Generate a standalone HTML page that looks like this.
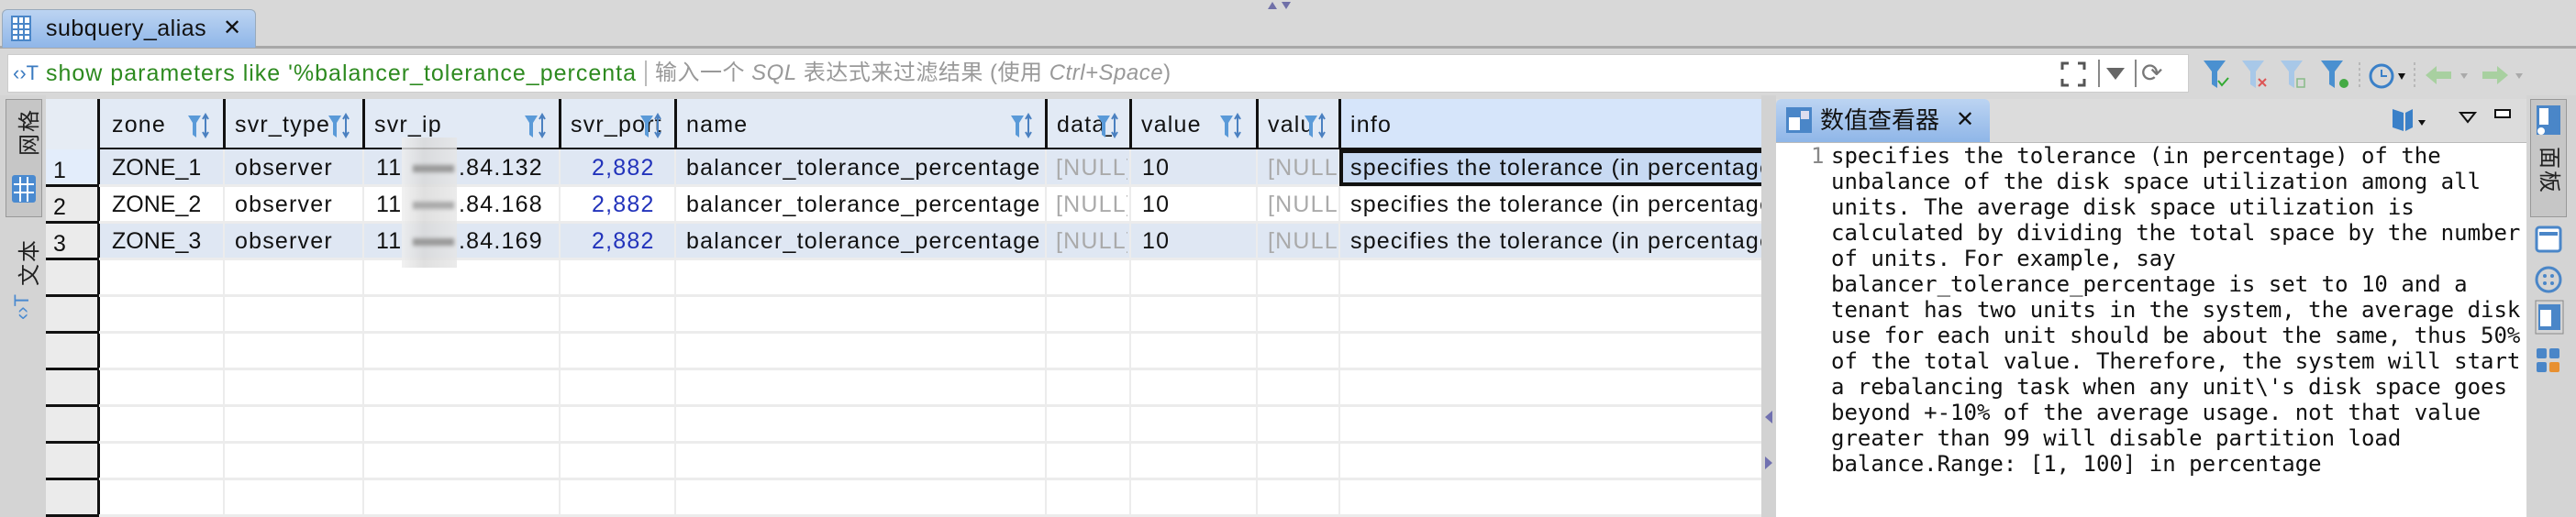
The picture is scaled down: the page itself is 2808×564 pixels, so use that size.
<!DOCTYPE html>
<html><head><meta charset="utf-8"><style>
*{margin:0;padding:0;box-sizing:border-box}
body{width:2808px;height:564px;overflow:hidden;background:#d8d8d8;font-family:"Liberation Sans","Noto Sans CJK SC",sans-serif;position:relative}
.a{position:absolute}
.t{position:absolute;font-size:25px;color:#111;white-space:nowrap;line-height:40px;letter-spacing:1.2px}
.mono{font-family:"DejaVu Sans Mono","Liberation Mono",monospace;font-size:24px;line-height:28px;color:#111;letter-spacing:0}
.vr{position:absolute;font-size:24px;writing-mode:vertical-rl;text-orientation:sideways;color:#222;letter-spacing:2px}
.vl{position:absolute;font-size:24px;writing-mode:vertical-rl;text-orientation:sideways;transform:rotate(180deg);color:#222;letter-spacing:2px}
</style></head><body>
<!-- top tab -->
<div class="a" style="left:0;top:50px;width:2808px;height:3px;background:#a8a8a8"></div>
<div class="a" style="left:2px;top:10px;width:277px;height:42px;background:linear-gradient(#bcd4f2,#8fb6e8);border:1px solid #9ab;border-bottom:none;border-radius:6px 6px 0 0"></div>
<svg class="a" style="left:12px;top:17px" width="22" height="28"><rect x="1" y="1" width="20" height="26" fill="#fff" stroke="#4a86c8" stroke-width="2"/><path d="M1 9H21M1 15H21M1 21H21M8 1V27M14 1V27" stroke="#4a86c8" stroke-width="2"/></svg>
<div class="t" style="left:50px;top:12px;font-size:25px;line-height:38px;letter-spacing:0.5px">subquery_alias</div>
<div class="t" style="left:243px;top:12px;font-size:24px;line-height:38px">✕</div>
<svg class="a" style="left:1380px;top:0" width="30" height="12"><path d="M2 10L7 2L12 10Z M17 2L27 2L22 10Z" fill="#7070a8"/></svg>
<!-- filter bar -->
<div class="a" style="left:8px;top:59px;width:2378px;height:42px;background:#fff;border:1px solid #ccc"></div>
<div class="t" style="left:14px;top:60px;font-size:22px;color:#3a7ac0;letter-spacing:0">‹›T</div>
<div class="t" style="left:50px;top:60px;color:#2d8a1f;font-size:25px;width:645px;overflow:hidden;letter-spacing:1px">show parameters like '%balancer_tolerance_percentage</div>
<div class="a" style="left:703px;top:66px;width:2px;height:28px;background:#bbb"></div>
<div class="t" style="left:714px;top:60px;color:#999;font-size:24px;letter-spacing:0.5px">输入一个 <i>SQL</i> 表达式来过滤结果 (使用 <i>Ctrl+Space</i>)</div>
<svg class="a" style="left:2245px;top:66px" width="30" height="30"><path d="M3 10V3H10M20 3H27V10M3 20V27H10M20 27H27V20" stroke="#555" stroke-width="3" fill="none"/></svg>
<div class="a" style="left:2287px;top:65px;width:2px;height:30px;background:#888"></div>
<svg class="a" style="left:2295px;top:72px" width="22" height="16"><path d="M1 2H21L11 15Z" fill="#666"/></svg>
<div class="a" style="left:2327px;top:65px;width:2px;height:30px;background:#888"></div>
<div class="t" style="left:2334px;top:60px;color:#777;font-size:28px;letter-spacing:0">⟳</div>
<!-- toolbar icons -->
<svg class="a" style="left:2400px;top:64px" width="400" height="36">
<g fill="#4a90d0"><path d="M2 2H26L17 14V32L11 28V14Z"/></g><path d="M18 24L22 29L29 21" stroke="#3a3" stroke-width="2" fill="none"/>
<g fill="#a8c8e8"><path d="M44 2H68L59 14V32L53 28V14Z"/></g><path d="M62 22L70 30M70 22L62 30" stroke="#d55" stroke-width="2"/>
<g fill="#a8c8e8"><path d="M86 2H110L101 14V32L95 28V14Z"/></g><rect x="104" y="22" width="8" height="9" fill="none" stroke="#8b8" stroke-width="1.5"/>
<g fill="#4a90d0"><path d="M130 2H154L145 14V32L139 28V14Z"/></g><circle cx="155" cy="27" r="5" fill="#4a4"/>
<path d="M172 4V32" stroke="#999" stroke-dasharray="3 3"/>
<circle cx="196" cy="19" r="12" fill="none" stroke="#3a80c8" stroke-width="3"/><path d="M196 12V19H202" stroke="#3a80c8" stroke-width="2" fill="none"/><path d="M214 16L222 16L218 23Z" fill="#111"/>
<path d="M232 4V32" stroke="#999" stroke-dasharray="3 3"/>
<path d="M244 18L256 8V14H272V22H256V28Z" fill="#a8d0a0"/><path d="M282 16L290 16L286 22Z" fill="#aaa"/>
<path d="M334 18L322 8V14H306V22H322V28Z" fill="#a8d0a0"/><path d="M342 16L350 16L346 22Z" fill="#aaa"/>
</svg>
<!-- left sidebar -->
<div class="a" style="left:0;top:104px;width:50px;height:460px;background:#d4d4d4"></div>
<div class="a" style="left:6px;top:108px;width:40px;height:129px;background:#c6c6c6;border:1px solid #999"></div>
<div class="vl" style="left:12px;top:118px">网格</div>
<svg class="a" style="left:12px;top:190px" width="28" height="32"><rect x="1" y="1" width="26" height="30" rx="3" fill="#4a8ad0"/><path d="M3 11H25M3 20H25M10 3V30M18 3V30" stroke="#fff" stroke-width="2"/></svg>
<div class="vl" style="left:12px;top:260px">文本</div>
<div class="a" style="left:10px;top:322px;font-size:22px;color:#4a8ad0;transform:rotate(-90deg)">‹›T</div>
<!-- grid -->
<div class="a" style="left:50px;top:108px;width:1870px;height:456px;background:#fff"></div>
<div class="a" style="left:50px;top:108px;width:1870px;height:55px;background:#e2eaf5"></div>
<div class="a" style="left:1459px;top:108px;width:461px;height:55px;background:#d6e5fa"></div>
<div class="a" style="left:50px;top:108px;width:58px;height:55px;background:#e6ecf4"></div>
<div class="a" style="left:108px;top:161px;width:1812px;height:3px;background:#111"></div>
<div class="a" style="left:108px;top:163px;width:1812px;height:40px;background:#dfe7f3"></div>
<div class="a" style="left:108px;top:243px;width:1812px;height:40px;background:#dfe7f3"></div>
<div class="a" style="left:50px;top:163px;width:58px;height:401px;background:#ebebeb"></div>
<div class="a" style="left:50px;top:163px;width:58px;height:40px;background:#e3edfb"></div>
<div class="a" style="left:106px;top:108px;width:3px;height:456px;background:#111"></div>
<div id="rl"></div>
<script>
var h='';
for(var y=201;y<564;y+=40){h+='<div class="a" style="left:108px;top:'+y+'px;width:1812px;height:3px;background:#ececec"></div><div class="a" style="left:50px;top:'+y+'px;width:58px;height:3px;background:#111"></div>';}
var cols=[243,395,609,735,1139,1231,1369,1459];
cols.forEach(function(x){h+='<div class="a" style="left:'+x+'px;top:163px;width:2px;height:401px;background:#ececec"></div><div class="a" style="left:'+x+'px;top:108px;width:3px;height:55px;background:#111"></div>';});
document.getElementById('rl').innerHTML=h;
</script>
<!-- header text -->
<div class="t" style="left:122px;top:116px">zone</div>
<div class="t" style="left:256px;top:116px;width:105px;overflow:hidden">svr_type</div>
<div class="t" style="left:408px;top:116px">svr_ip</div>
<div class="t" style="left:622px;top:116px;width:100px;overflow:hidden">svr_port</div>
<div class="t" style="left:748px;top:116px">name</div>
<div class="t" style="left:1152px;top:116px;width:60px;overflow:hidden">data_</div>
<div class="t" style="left:1244px;top:116px">value</div>
<div class="t" style="left:1382px;top:116px;width:60px;overflow:hidden">valu</div>
<div class="t" style="left:1472px;top:116px">info</div>
<svg class="a" style="left:0;top:120px" width="1460" height="34">
<defs><g id="fl"><path d="M0 2H14L9 10V26L5 23V10Z" fill="#5a9ad8"/><path d="M19 2V24M16 6L19 1L22 6M16 20L19 25L22 20" stroke="#4a80c0" stroke-width="2" fill="none"/></g></defs>
<use href="#fl" x="205" y="4"/><use href="#fl" x="358" y="4"/><use href="#fl" x="572" y="4"/><use href="#fl" x="698" y="4"/><use href="#fl" x="1102" y="4"/><use href="#fl" x="1196" y="4"/><use href="#fl" x="1330" y="4"/><use href="#fl" x="1422" y="4"/>
</svg>
<!-- rows -->
<div class="t" style="left:58px;top:166px">1</div><div class="t" style="left:58px;top:206px">2</div><div class="t" style="left:58px;top:246px">3</div>
<div class="t" style="left:122px;top:163px;letter-spacing:0">ZONE_1</div><div class="t" style="left:122px;top:203px;letter-spacing:0">ZONE_2</div><div class="t" style="left:122px;top:243px;letter-spacing:0">ZONE_3</div>
<div class="t" style="left:256px;top:163px">observer</div><div class="t" style="left:256px;top:203px">observer</div><div class="t" style="left:256px;top:243px">observer</div>
<div class="a" style="left:438px;top:150px;width:60px;height:142px;background:linear-gradient(90deg,#eee,#d8d8d8 40%,#e6e6e6);opacity:.8"></div>
<div class="a" style="left:450px;top:180px;width:45px;height:8px;background:#999;filter:blur(2px)"></div>
<div class="a" style="left:450px;top:220px;width:45px;height:8px;background:#aaa;filter:blur(2px)"></div>
<div class="a" style="left:450px;top:260px;width:45px;height:8px;background:#999;filter:blur(2px)"></div>
<div class="t" style="left:410px;top:163px">11</div><div class="t" style="left:410px;top:203px">11</div><div class="t" style="left:410px;top:243px">11</div>
<div class="t" style="left:500px;top:163px">.84.132</div><div class="t" style="left:500px;top:203px">.84.168</div><div class="t" style="left:500px;top:243px">.84.169</div>
<div class="t" style="left:645px;top:163px;color:#2233bb">2,882</div><div class="t" style="left:645px;top:203px;color:#2233bb">2,882</div><div class="t" style="left:645px;top:243px;color:#2233bb">2,882</div>
<div class="t" style="left:748px;top:163px">balancer_tolerance_percentage</div><div class="t" style="left:748px;top:203px">balancer_tolerance_percentage</div><div class="t" style="left:748px;top:243px">balancer_tolerance_percentage</div>
<div class="t" style="left:1151px;top:163px;color:#aaa;width:78px;overflow:hidden">[NULL]</div><div class="t" style="left:1151px;top:203px;color:#aaa;width:78px;overflow:hidden">[NULL]</div><div class="t" style="left:1151px;top:243px;color:#aaa;width:78px;overflow:hidden">[NULL]</div>
<div class="t" style="left:1245px;top:163px">10</div><div class="t" style="left:1245px;top:203px">10</div><div class="t" style="left:1245px;top:243px">10</div>
<div class="t" style="left:1382px;top:163px;color:#aaa;width:76px;overflow:hidden">[NULL]</div><div class="t" style="left:1382px;top:203px;color:#aaa;width:76px;overflow:hidden">[NULL]</div><div class="t" style="left:1382px;top:243px;color:#aaa;width:76px;overflow:hidden">[NULL]</div>
<div class="a" style="left:1460px;top:163px;width:460px;height:40px;background:#c8daf3;border:4px solid #111;border-right:none"></div>
<div class="t" style="left:1472px;top:163px;width:448px;overflow:hidden">specifies the tolerance (in percentage) of</div>
<div class="t" style="left:1472px;top:203px;width:448px;overflow:hidden">specifies the tolerance (in percentage) of</div>
<div class="t" style="left:1472px;top:243px;width:448px;overflow:hidden">specifies the tolerance (in percentage) of</div>
<!-- splitter -->
<div class="a" style="left:1920px;top:104px;width:16px;height:460px;background:#d2d2d2"></div>
<svg class="a" style="left:1922px;top:448px" width="12" height="70"><path d="M10 0V14L2 7Z M2 50V64L10 57Z" fill="#7070b0"/></svg>
<!-- value viewer -->
<div class="a" style="left:1936px;top:108px;width:818px;height:47px;background:#dcdcdc"></div>
<div class="a" style="left:1936px;top:108px;width:233px;height:47px;background:linear-gradient(#bcd4f2,#8fb6e8);border-radius:6px 6px 0 0"></div>
<svg class="a" style="left:1946px;top:116px" width="30" height="30"><rect x="1" y="1" width="28" height="28" fill="#4a86c8"/><rect x="4" y="12" width="12" height="14" fill="#fff"/><rect x="17" y="5" width="9" height="9" fill="#dde"/></svg>
<div class="t" style="left:1984px;top:111px;font-size:26px;letter-spacing:0">数值查看器</div>
<div class="t" style="left:2132px;top:111px;font-size:24px">✕</div>
<svg class="a" style="left:2600px;top:115px" width="150" height="30"><path d="M8 4L20 8V28L8 24Z M22 8L30 4V24L22 28Z" fill="#3a80c8"/><path d="M36 16L44 16L40 22Z" fill="#111"/><path d="M82 8H98L90 18Z" fill="none" stroke="#111" stroke-width="2"/><rect x="120" y="5" width="16" height="8" fill="#fff" stroke="#111" stroke-width="2"/></svg>
<div class="a" style="left:1936px;top:155px;width:818px;height:409px;background:#fff;border-top:1px solid #bbb"></div>
<div class="a mono" style="left:1974px;top:156px;color:#888">1</div>
<div class="a mono" style="left:1996px;top:156px;white-space:pre">specifies the tolerance (in percentage) of the
unbalance of the disk space utilization among all
units. The average disk space utilization is
calculated by dividing the total space by the number
of units. For example, say
balancer_tolerance_percentage is set to 10 and a
tenant has two units in the system, the average disk
use for each unit should be about the same, thus 50%
of the total value. Therefore, the system will start
a rebalancing task when any unit\'s disk space goes
beyond +-10% of the average usage. not that value
greater than 99 will disable partition load
balance.Range: [1, 100] in percentage</div>
<!-- right sidebar -->
<div class="a" style="left:2754px;top:104px;width:54px;height:460px;background:#d4d4d4"></div>
<div class="a" style="left:2758px;top:108px;width:40px;height:129px;background:#c6c6c6;border:1px solid #999"></div>
<svg class="a" style="left:2764px;top:114px" width="28" height="36"><rect x="1" y="1" width="26" height="32" fill="#4a86c8"/><rect x="4" y="4" width="10" height="18" fill="#fff"/><circle cx="6" cy="29" r="4" fill="#fff"/></svg>
<div class="vr" style="left:2764px;top:160px">面板</div>
<svg class="a" style="left:2762px;top:245px" width="34" height="190"><rect x="3" y="3" width="26" height="26" rx="3" fill="#fff" stroke="#4a86c8" stroke-width="3"/><path d="M6 10H26" stroke="#4a86c8" stroke-width="4"/>
<circle cx="16" cy="60" r="13" fill="none" stroke="#4a86c8" stroke-width="3"/><circle cx="12" cy="56" r="2" fill="#4a86c8"/><circle cx="20" cy="56" r="2" fill="#4a86c8"/><circle cx="12" cy="64" r="2" fill="#4a86c8"/><circle cx="20" cy="64" r="2" fill="#4a86c8"/>
<rect x="2" y="83" width="30" height="36" fill="none" stroke="#888"/><rect x="5" y="87" width="24" height="28" fill="#4a86c8"/><rect x="7" y="93" width="12" height="18" fill="#fff"/>
<rect x="3" y="135" width="11" height="11" rx="2" fill="#4a86c8"/><rect x="17" y="135" width="11" height="11" rx="2" fill="#4a86c8"/><rect x="3" y="150" width="11" height="11" rx="2" fill="#4a86c8"/><rect x="17" y="150" width="11" height="11" rx="2" fill="#e89030"/></svg>
</body></html>
